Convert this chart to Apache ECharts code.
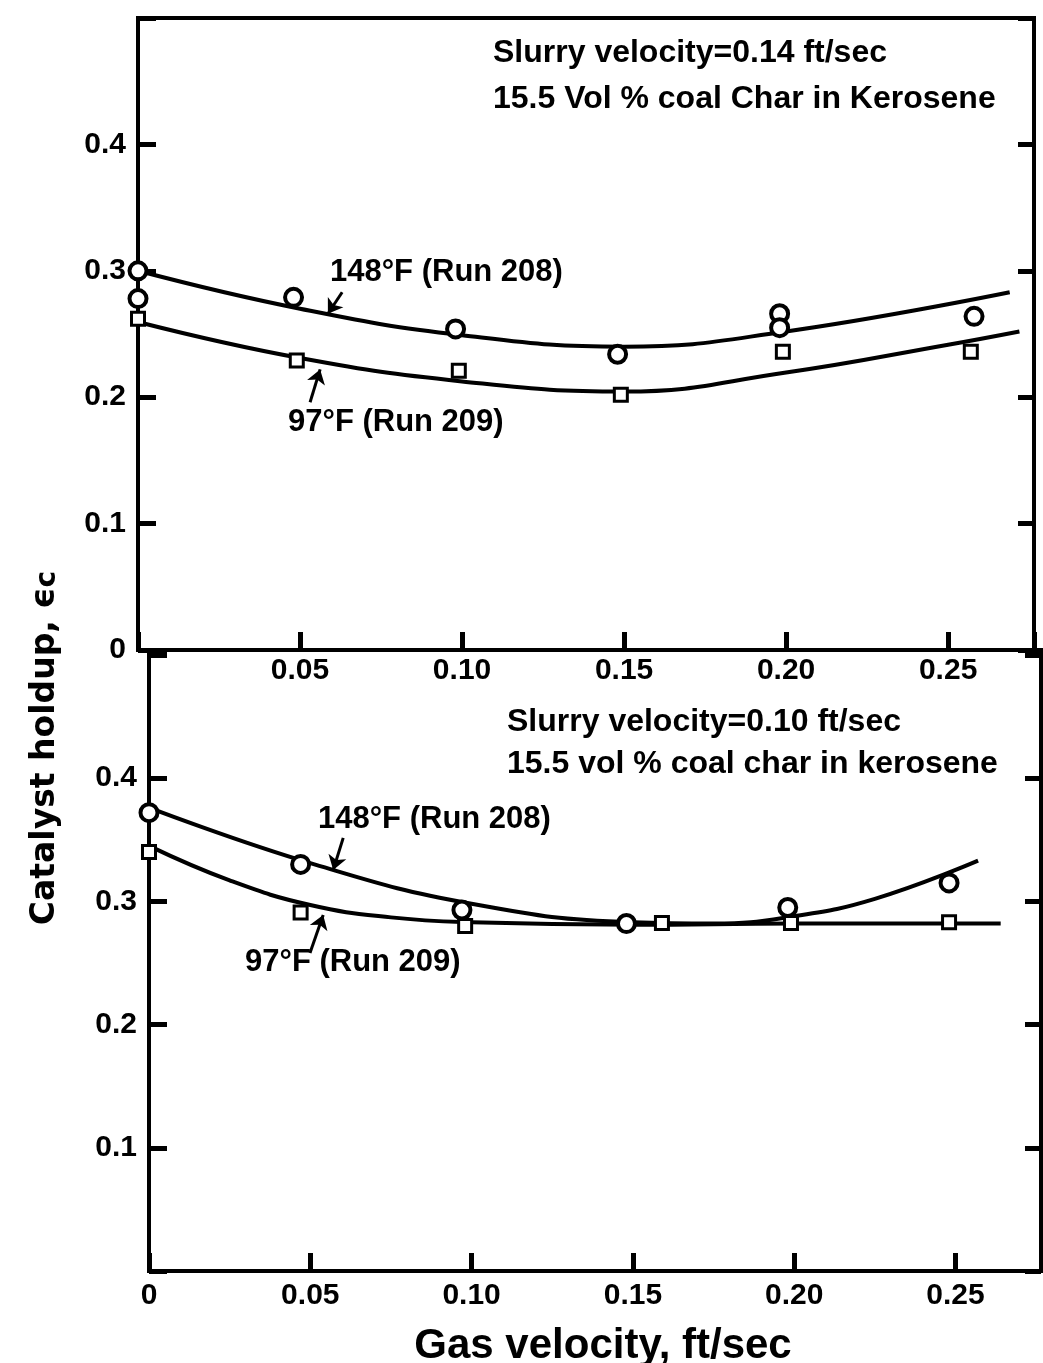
<!DOCTYPE html>
<html>
<head>
<meta charset="utf-8">
<script src="https://cdn.jsdelivr.net/npm/echarts@6/dist/echarts.min.js"></script>
<style>
  html, body { margin: 0; padding: 0; background: #fff; }
  #chart { width: 1043px; height: 1363px; }
</style>
</head>
<body>
<div id="chart"></div>
<script>
// Gas velocity ticks (ft/sec) and the labels printed under them
const xTicks = [0, 0.05, 0.10, 0.15, 0.20, 0.25];
const xTickLabelsUpper = ['', '0.05', '0.10', '0.15', '0.20', '0.25'];
const xTickLabelsLower = ['0', '0.05', '0.10', '0.15', '0.20', '0.25'];
// Catalyst holdup ticks
const yTicks = [0, 0.1, 0.2, 0.3, 0.4];
const yTickLabelsUpper = ['0', '0.1', '0.2', '0.3', '0.4'];
const yTickLabelsLower = ['', '0.1', '0.2', '0.3', '0.4'];

// Upper panel: slurry velocity 0.14 ft/sec
const upper148Points = [[0, 0.300], [0, 0.278], [0.048, 0.279], [0.098, 0.254], [0.148, 0.234], [0.198, 0.266], [0.198, 0.255], [0.258, 0.264]];
const upper97Points = [[0, 0.262], [0.049, 0.229], [0.099, 0.221], [0.149, 0.202], [0.199, 0.236], [0.257, 0.236]];
const upper148Curve = [[0, 0.300], [0.05, 0.270], [0.10, 0.249], [0.15, 0.240], [0.20, 0.252], [0.269, 0.283]];
const upper97Curve = [[0, 0.2595], [0.05, 0.231], [0.10, 0.2125], [0.15, 0.2045], [0.20, 0.2195], [0.25, 0.2415], [0.272, 0.252]];

// Lower panel: slurry velocity 0.10 ft/sec
const lower148Points = [[0, 0.372], [0.047, 0.330], [0.097, 0.293], [0.148, 0.282], [0.198, 0.295], [0.248, 0.315]];
const lower97Points = [[0, 0.340], [0.047, 0.291], [0.098, 0.280], [0.159, 0.2825], [0.199, 0.2825], [0.248, 0.283]];
const lower148Curve = [[0, 0.376], [0.05, 0.331], [0.10, 0.298], [0.15, 0.283], [0.175, 0.282], [0.20, 0.288], [0.225, 0.302], [0.257, 0.333]];
const lower97Curve = [[0, 0.345], [0.025, 0.317], [0.05, 0.297], [0.075, 0.287], [0.10, 0.283], [0.15, 0.281], [0.20, 0.282], [0.264, 0.282]];

// Leader arrows from the curve labels to their curves
const upper148Arrow = [[0.063, 0.283], [0.0586, 0.266]];
const upper97Arrow = [[0.0531, 0.196], [0.0562, 0.222]];
const lower148Arrow = [[0.0602, 0.3515], [0.0571, 0.3255]];
const lower97Arrow = [[0.0499, 0.258], [0.054, 0.289]];

const X_MAX = 0.2765;
const FONT = '"Liberation Sans", Arial, Helvetica, sans-serif';
const INK = '#000';

function labeler(values, labels) {
  return function (v) {
    const i = values.findIndex(t => Math.abs(t - v) < 1e-6);
    return i < 0 ? '' : labels[i];
  };
}

function xAxisFor(gridIndex, labels, margin) {
  return {
    type: 'value', gridIndex: gridIndex, min: 0, max: X_MAX, interval: 0.05,
    axisLine: { show: true, onZero: false, lineStyle: { color: INK, width: 4 } },
    axisTick: { show: true, inside: true, length: 18, lineStyle: { color: INK, width: 5 } },
    axisLabel: {
      formatter: labeler(xTicks, labels), color: INK, fontFamily: FONT,
      fontWeight: 'bold', fontSize: 30, margin: margin, showMinLabel: true, showMaxLabel: true
    },
    splitLine: { show: false }
  };
}

function yAxisFor(gridIndex, max, labels, side) {
  const left = side === 'left';
  return {
    type: 'value', gridIndex: gridIndex, position: side, min: 0, max: max, interval: 0.1,
    axisLine: { show: left, onZero: false, lineStyle: { color: INK, width: 4 } },
    axisTick: { show: true, inside: true, length: left ? 18 : 16, lineStyle: { color: INK, width: 5 } },
    axisLabel: {
      show: left, formatter: labeler(yTicks, labels), color: INK, fontFamily: FONT,
      fontWeight: 'bold', fontSize: 30, margin: 12, showMinLabel: true, showMaxLabel: true
    },
    splitLine: { show: false }
  };
}

function curve(data, xi, yi, arrow) {
  const s = {
    type: 'line', xAxisIndex: xi, yAxisIndex: yi, data: data,
    smooth: 0.45, showSymbol: false, clip: false, z: 2,
    lineStyle: { color: INK, width: 4 }, itemStyle: { color: INK }
  };
  if (arrow) {
    s.markLine = {
      silent: true, symbol: ['none', 'arrow'], symbolSize: 14, animation: false,
      label: { show: false },
      itemStyle: { color: INK },
      lineStyle: { color: INK, width: 3, type: 'solid' },
      data: [[{ coord: arrow[0] }, { coord: arrow[1] }]]
    };
  }
  return s;
}

function markers(data, xi, yi, shape) {
  const circle = shape === 'circle';
  return {
    type: 'scatter', xAxisIndex: xi, yAxisIndex: yi, data: data, clip: false, z: 3,
    symbol: circle ? 'circle' : 'rect', symbolSize: circle ? 17 : 13,
    itemStyle: { color: '#fff', borderColor: INK, borderWidth: circle ? 4 : 3, opacity: 1 }
  };
}

function text(str, x, y, size, align) {
  return {
    type: 'text', x: x, y: y, silent: true, z: 10,
    style: {
      text: str, fill: INK, fontFamily: FONT, fontWeight: 'bold', fontSize: size,
      align: align || 'left', verticalAlign: 'middle'
    }
  };
}

const chart = echarts.init(document.getElementById('chart'), null, { renderer: 'canvas' });

chart.setOption({
  backgroundColor: '#fff',
  animation: false,
  grid: [
    { left: 138, top: 18, width: 896, height: 632, show: true, borderColor: INK, borderWidth: 4, backgroundColor: 'transparent', outerBoundsMode: 'none' },
    { left: 149, top: 650, width: 892, height: 621, show: true, borderColor: INK, borderWidth: 4, backgroundColor: 'transparent', outerBoundsMode: 'none' }
  ],
  xAxis: [
    xAxisFor(0, xTickLabelsUpper, 6),
    xAxisFor(1, xTickLabelsLower, 10)
  ],
  yAxis: [
    yAxisFor(0, 0.5, yTickLabelsUpper, 'left'),
    yAxisFor(0, 0.5, yTickLabelsUpper, 'right'),
    yAxisFor(1, 0.504, yTickLabelsLower, 'left'),
    yAxisFor(1, 0.504, yTickLabelsLower, 'right')
  ],
  series: [
    curve(upper148Curve, 0, 0, upper148Arrow),
    curve(upper97Curve, 0, 0, upper97Arrow),
    markers(upper148Points, 0, 0, 'circle'),
    markers(upper97Points, 0, 0, 'rect'),
    curve(lower148Curve, 1, 2, lower148Arrow),
    curve(lower97Curve, 1, 2, lower97Arrow),
    markers(lower148Points, 1, 2, 'circle'),
    markers(lower97Points, 1, 2, 'rect')
  ],
  graphic: [
    // panel conditions
    text('Slurry velocity=0.14 ft/sec', 493, 53, 32),
    text('15.5 Vol % coal Char in Kerosene', 493, 99, 32),
    text('Slurry velocity=0.10 ft/sec', 507, 722, 32),
    text('15.5 vol % coal char in kerosene', 507, 764, 32),
    // curve labels
    text('148°F (Run 208)', 330, 272, 31),
    text('97°F (Run 209)', 288, 422, 31),
    text('148°F (Run 208)', 318, 819, 31),
    text('97°F (Run 209)', 245, 962, 31),
    // axis titles
    text('Gas velocity, ft/sec', 603, 1346, 42, 'center'),
    {
      type: 'text', x: 45, y: 748, rotation: Math.PI / 2, silent: true, z: 10,
      style: {
        text: 'Catalyst holdup, \u03f5{sub|c}', fill: INK,
        fontFamily: '"DejaVu Sans", ' + FONT, fontWeight: 'bold', fontSize: 33,
        align: 'center', verticalAlign: 'middle',
        rich: {
          sub: { fontFamily: '"DejaVu Sans", ' + FONT, fontWeight: 'bold', fontSize: 28, fill: INK, verticalAlign: 'bottom' }
        }
      }
    }
  ]
});
</script>
</body>
</html>
